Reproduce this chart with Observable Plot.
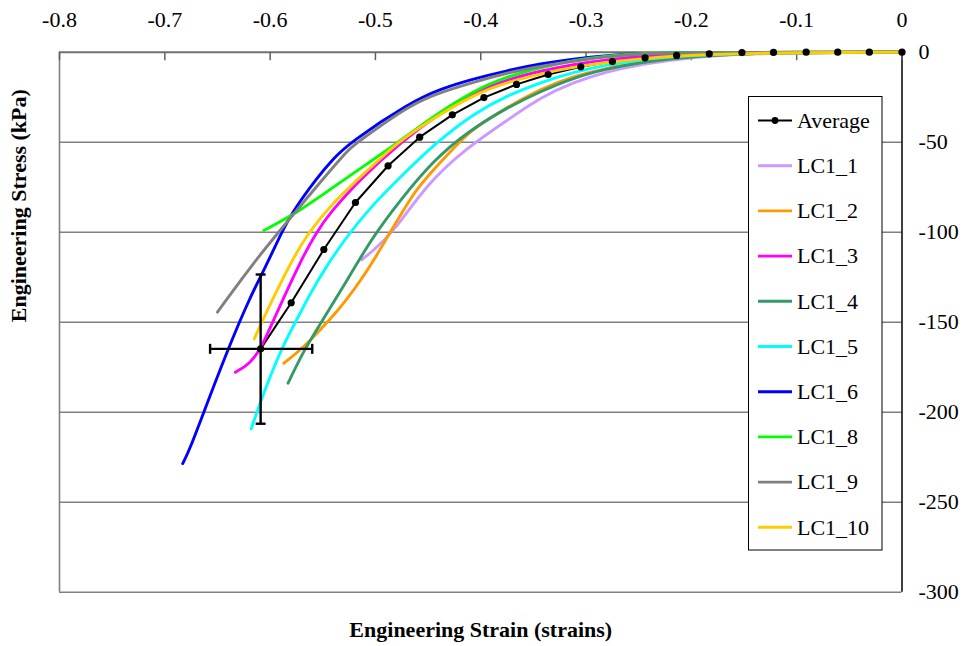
<!DOCTYPE html>
<html><head><meta charset="utf-8">
<script src="https://cdn.jsdelivr.net/npm/d3@7"></script>
<script src="https://cdn.jsdelivr.net/npm/@observablehq/plot@0.6"></script>
<style>html,body{margin:0;padding:0;background:#fff;} svg{display:block}</style>
</head><body><div id="chart"></div>
<script>
// ---- Tick labels ----
const xTicks = [-0.8, -0.7, -0.6, -0.5, -0.4, -0.3, -0.2, -0.1, 0];
const yTicks = [0, -50, -100, -150, -200, -250, -300];
const gridY = [-50, -100, -150, -200, -250];

// ---- Average series ----
const avgStrain = [0, -0.031, -0.061, -0.091, -0.122, -0.152, -0.183, -0.214, -0.244, -0.275, -0.305, -0.336, -0.366, -0.397, -0.427, -0.458, -0.488, -0.519, -0.549, -0.580, -0.609];
const avgStress = [0, 0, 0, 0, -0.1, -0.2, -0.9, -1.8, -3.1, -5.2, -8.1, -12.4, -17.9, -25.2, -34.8, -47.2, -63.1, -83.5, -109.6, -139.2, -164.8];

// error bars at last average point
const errCenter = [-0.609, -164.8];
const errStrainRange = [-0.657, -0.560];
const errStressRange = [-123.5, -206.4];

// ---- Individual tests ----
const lc1_1Strain = [0, -0.153, -0.217, -0.248, -0.280, -0.312, -0.343, -0.375, -0.414, -0.451, -0.483, -0.502, -0.513];
const lc1_1Stress = [0, -0.4, -4.1, -6.8, -10.7, -16.7, -25.0, -37.9, -53.5, -73.1, -100, -110.2, -115.3];

const lc1_2Strain = [0, -0.153, -0.217, -0.248, -0.280, -0.312, -0.343, -0.375, -0.407, -0.419, -0.451, -0.464, -0.476, -0.486, -0.500, -0.514, -0.528, -0.543, -0.562, -0.574, -0.587];
const lc1_2Stress = [0, -0.3, -3.2, -5.6, -8.7, -13.3, -20.3, -30.6, -42.4, -49.1, -69.1, -78.7, -90.4, -100, -114.1, -126.8, -137.9, -148.5, -160.2, -166.8, -172.8];

const lc1_3Strain = [0, -0.153, -0.217, -0.248, -0.280, -0.312, -0.343, -0.375, -0.407, -0.438, -0.476, -0.514, -0.543, -0.556, -0.571, -0.597, -0.608, -0.619, -0.633];
const lc1_3Stress = [0, -0.2, -1.6, -2.4, -4.1, -6.8, -10.4, -15.2, -22.4, -33.5, -50, -70.2, -89.1, -100, -115.7, -149.1, -163.9, -173.1, -177.8];

const lc1_4Strain = [0, -0.153, -0.217, -0.248, -0.280, -0.312, -0.343, -0.375, -0.413, -0.445, -0.476, -0.503, -0.527, -0.552, -0.568, -0.583];
const lc1_4Stress = [0, -0.3, -3.3, -5.7, -9.2, -14.2, -21.7, -30.7, -44.4, -60.2, -81.8, -102.9, -126.8, -150.7, -165.7, -183.9];

const lc1_5Strain = [0, -0.153, -0.217, -0.248, -0.280, -0.312, -0.343, -0.375, -0.407, -0.442, -0.476, -0.505, -0.528, -0.548, -0.562, -0.574, -0.587, -0.603, -0.618];
const lc1_5Stress = [0, -0.3, -2.4, -4.1, -7.0, -11.1, -16.7, -24.1, -34.2, -50, -69.1, -86.3, -103, -120.2, -134.2, -147.9, -162, -184.2, -209.2];

const lc1_6Strain = [0, -0.153, -0.217, -0.248, -0.280, -0.312, -0.343, -0.375, -0.407, -0.438, -0.467, -0.524, -0.540, -0.555, -0.578, -0.589, -0.606, -0.619, -0.638, -0.660, -0.676, -0.683];
const lc1_6Stress = [0, -0.1, -0.3, -0.8, -1.8, -3.7, -6.4, -10.2, -14.8, -20.3, -27.9, -50, -59.1, -69.4, -87.9, -100, -121.3, -136.1, -162.0, -195.3, -220.3, -228.5];

const lc1_8Strain = [0, -0.153, -0.217, -0.248, -0.280, -0.312, -0.343, -0.375, -0.407, -0.451, -0.478, -0.508, -0.540, -0.571, -0.606];
const lc1_8Stress = [0, -0.1, -0.3, -0.6, -2.0, -4.5, -8.5, -13.5, -21.3, -37.9, -50, -62.0, -75.0, -87.9, -99.1];

const lc1_9Strain = [0, -0.153, -0.217, -0.248, -0.280, -0.312, -0.343, -0.375, -0.407, -0.438, -0.467, -0.517, -0.527, -0.571, -0.613, -0.650];
const lc1_9Stress = [0, -0.2, -0.4, -1.0, -2.4, -5.0, -7.8, -11.4, -16.7, -22.2, -29.0, -50, -54.6, -85.2, -114.6, -144.4];

const lc1_10Strain = [0, -0.153, -0.217, -0.248, -0.280, -0.312, -0.343, -0.375, -0.407, -0.451, -0.479, -0.514, -0.543, -0.563, -0.578, -0.606, -0.615];
const lc1_10Stress = [0, -0.4, -2.2, -3.7, -5.6, -8.3, -12.0, -16.7, -23.5, -38.9, -50, -69.1, -85.2, -100, -113.9, -147.2, -159.2];

const seriesNames = ["LC1_1", "LC1_2", "LC1_3", "LC1_4", "LC1_5", "LC1_6", "LC1_8", "LC1_9", "LC1_10"];
const seriesColors = ["#CC99FF", "#FF9900", "#FF00FF", "#339966", "#00FFFF", "#0000FF", "#00FF00", "#808080", "#FFCC00"];
const seriesStrain = [lc1_1Strain, lc1_2Strain, lc1_3Strain, lc1_4Strain, lc1_5Strain, lc1_6Strain, lc1_8Strain, lc1_9Strain, lc1_10Strain];
const seriesStress = [lc1_1Stress, lc1_2Stress, lc1_3Stress, lc1_4Stress, lc1_5Stress, lc1_6Stress, lc1_8Stress, lc1_9Stress, lc1_10Stress];

const series = seriesNames.map((name, k) => ({
  name, color: seriesColors[k],
  rows: seriesStrain[k].map((x, i) => ({strain: x, stress: seriesStress[k][i]}))
}));
const avgRows = avgStrain.map((x, i) => ({strain: x, stress: avgStress[i]}));

// custom symbols (drawn in pixels relative to the data point)
const hLine = {draw(ctx, size) { const r = Math.sqrt(size / Math.PI); ctx.moveTo(-r, 0); ctx.lineTo(r, 0); }};
const vLine = {draw(ctx, size) { const r = Math.sqrt(size / Math.PI); ctx.moveTo(0, -r); ctx.lineTo(0, r); }};
const tickDown = {draw(ctx, size) { const r = Math.sqrt(size / Math.PI); ctx.moveTo(0, 0); ctx.lineTo(0, r); }};

const FONT = "Liberation Serif, Times New Roman, serif";

const chart = Plot.plot({
  width: 966,
  height: 646,
  marginLeft: 59,
  marginRight: 64.5,
  marginTop: 51.7,
  marginBottom: 54.3,
  style: {fontFamily: FONT, fontSize: "22px", background: "white", color: "black", overflow: "visible"},
  x: {domain: [-0.8, 0], axis: null},
  y: {domain: [-300, 0], axis: null},
  marks: [
    Plot.ruleY(gridY, {stroke: "#808080", strokeWidth: 1.6}),
    Plot.ruleY([-300], {stroke: "#808080", strokeWidth: 1.6}),
    Plot.ruleX([-0.8], {stroke: "#808080", strokeWidth: 1.6}),
    Plot.ruleY([0], {stroke: "#707070", strokeWidth: 2}),
    Plot.ruleX([0], {stroke: "black", strokeWidth: 1.5}),
    Plot.dot(xTicks, {x: d => d, y: () => 0, symbol: tickDown, r: 8, stroke: "#606060", strokeWidth: 1.5, fill: "none"}),
    // tick labels
    Plot.text(xTicks, {x: d => d, y: () => 0, text: d => String(d), dy: -32, lineAnchor: "middle", fontSize: 22, fontFamily: FONT, fill: "black"}),
    Plot.text(yTicks, {x: () => 0, y: d => d, text: d => String(d), dx: 16.5, textAnchor: "start", lineAnchor: "middle", fontSize: 22, fontFamily: FONT, fill: "black"}),
    // axis titles
    Plot.text(["Engineering Strain (strains)"], {frameAnchor: "bottom", dy: 38, lineAnchor: "middle", fontWeight: "bold", fontSize: 22, fontFamily: FONT, fill: "black"}),
    Plot.text(["Engineering Stress (kPa)"], {frameAnchor: "left", dx: -41, rotate: -90, lineAnchor: "middle", fontWeight: "bold", fontSize: 22, fontFamily: FONT, fill: "black"}),
    // average line underneath
    Plot.line(avgRows, {x: "strain", y: "stress", stroke: "black", strokeWidth: 2}),
    // individual curves
    ...series.map(s => Plot.line(s.rows, {x: "strain", y: "stress", stroke: s.color, strokeWidth: 2.9, curve: "basis"})),
    // average markers
    Plot.dot(avgRows, {x: "strain", y: "stress", r: 3.6, fill: "black", stroke: "none"}),
    // error bars
    Plot.ruleX([errCenter], {x: d => d[0], y1: () => errStressRange[0], y2: () => errStressRange[1], stroke: "black", strokeWidth: 2.4}),
    Plot.ruleY([errCenter], {y: d => d[1], x1: () => errStrainRange[0], x2: () => errStrainRange[1], stroke: "black", strokeWidth: 2.4}),
    Plot.dot([[errCenter[0], errStressRange[0]], [errCenter[0], errStressRange[1]]], {x: d => d[0], y: d => d[1], symbol: hLine, r: 5, stroke: "black", strokeWidth: 2.4, fill: "none"}),
    Plot.dot([[errStrainRange[0], errCenter[1]], [errStrainRange[1], errCenter[1]]], {x: d => d[0], y: d => d[1], symbol: vLine, r: 5, stroke: "black", strokeWidth: 2.4, fill: "none"})
  ]
});

// ---- Legend (drawn inside the svg) ----
const legendItems = [{name: "Average", color: "black", avg: true}, ...series.map(s => ({name: s.name, color: s.color}))];
const svg = d3.select(chart);
const lg = svg.append("g").attr("font-family", FONT).attr("font-size", 22).attr("text-anchor", "start");
lg.append("rect").attr("x", 748.5).attr("y", 96.5).attr("width", 133.5).attr("height", 453.5)
  .attr("fill", "white").attr("stroke", "black").attr("stroke-width", 1);
legendItems.forEach((d, i) => {
  const cy = 120.5 + i * 45.2;
  lg.append("line").attr("x1", 758).attr("x2", 792).attr("y1", cy).attr("y2", cy)
    .attr("stroke", d.color).attr("stroke-width", d.avg ? 2 : 2.9);
  if (d.avg) lg.append("circle").attr("cx", 775).attr("cy", cy).attr("r", 3.4).attr("fill", "black");
  lg.append("text").attr("x", 797).attr("y", cy).attr("dy", "0.33em").attr("text-anchor", "start")
    .attr("fill", "black").text(d.name);
});

document.getElementById("chart").appendChild(chart);
</script></body></html>
